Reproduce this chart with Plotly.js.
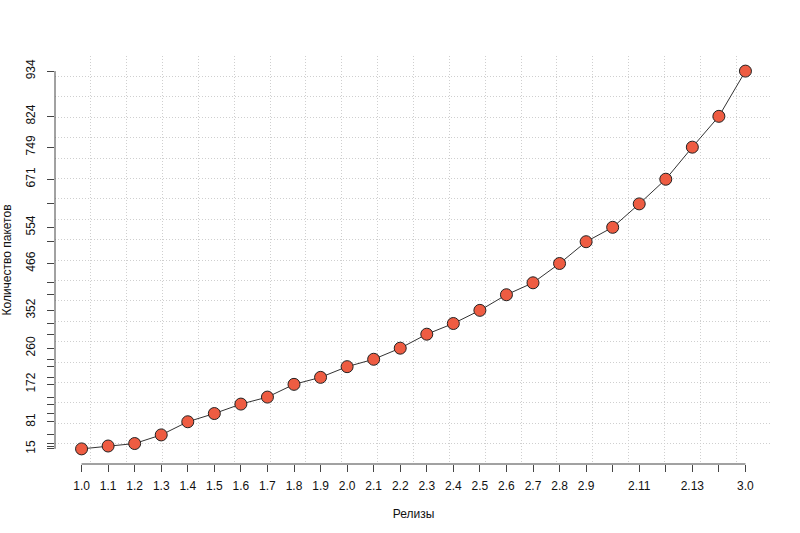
<!DOCTYPE html>
<html>
<head>
<meta charset="utf-8">
<script src="https://cdn.plot.ly/plotly-3.0.1.min.js"></script>
<style>
  html, body { margin: 0; padding: 0; background: #fff; }
  #chart { width: 800px; height: 533px; }
</style>
</head>
<body>
<div id="chart"></div>
<script>
// releases on the x axis
var releases = ['1.0', '1.1', '1.2', '1.3', '1.4', '1.5', '1.6', '1.7', '1.8', '1.9',
  '2.0', '2.1', '2.2', '2.3', '2.4', '2.5', '2.6', '2.7', '2.8', '2.9',
  '2.10', '2.11', '2.12', '2.13', '2.14', '3.0'];
// number of packages per release
var packages = [15, 22, 28, 49, 81, 101, 124, 141, 172, 189,
  215, 233, 260, 294, 320, 352, 390, 419, 466, 519,
  554, 611, 671, 749, 824, 934];
// labels that are actually printed (the rest are dropped for overlap)
var xLabelsShown = ['1.0', '1.1', '1.2', '1.3', '1.4', '1.5', '1.6', '1.7', '1.8', '1.9',
  '2.0', '2.1', '2.2', '2.3', '2.4', '2.5', '2.6', '2.7', '2.8', '2.9',
  '2.11', '2.13', '3.0'];
var yLabelsShown = [15, 81, 172, 260, 352, 466, 554, 671, 749, 824, 934];

// positions of releases along the axis
var xPos = releases.map(function (r, i) { return i + 1; });

// ranges padded by 4% like base graphics
function padRange(lo, hi) {
  var d = (hi - lo) * 0.04;
  return [lo - d, hi + d];
}
var xr = padRange(xPos[0], xPos[xPos.length - 1]);
var ymin = Math.min.apply(null, packages);
var ymax = Math.max.apply(null, packages);
var yr = padRange(ymin, ymax);

var axisCol = '#444';
var gridCol = '#cfcfcf';
var font = { family: 'Liberation Sans, Arial, sans-serif', size: 12, color: '#111' };

var trace = {
  x: xPos,
  y: packages,
  type: 'scatter',
  mode: 'lines+markers',
  line: { color: '#333', width: 1 },
  marker: { size: 12, color: '#EE5C42', line: { color: '#222', width: 1 } },
  hoverinfo: 'x+y'
};

var layout = {
  width: 800,
  height: 533,
  margin: { l: 55, r: 28, t: 56, b: 69 },
  paper_bgcolor: '#fff',
  plot_bgcolor: '#fff',
  showlegend: false,
  font: font,
  xaxis: {
    range: xr,
    tickmode: 'array',
    tickvals: xPos,
    ticktext: releases.map(function (r) { return xLabelsShown.indexOf(r) >= 0 ? r : ''; }),
    ticks: 'outside',
    ticklen: 7,
    tickcolor: axisCol,
    tickfont: font,
    ticklabelstandoff: 4,
    showline: false,
    zeroline: false,
    showgrid: false,
    minor: {
      tickmode: 'linear',
      tick0: xr[0],
      dtick: (xr[1] - xr[0]) / 20,
      ticks: '',
      showgrid: true,
      gridcolor: gridCol,
      griddash: '1px,2px',
      gridwidth: 1
    },
    title: { text: 'Релизы', font: font, standoff: 17 }
  },
  yaxis: {
    range: yr,
    tickmode: 'array',
    tickvals: packages,
    ticktext: packages.map(function (v) { return yLabelsShown.indexOf(v) >= 0 ? String(v) : ''; }),
    tickangle: -90,
    ticks: 'outside',
    ticklen: 7,
    tickcolor: axisCol,
    tickfont: font,
    ticklabelstandoff: 7,
    showline: false,
    zeroline: false,
    showgrid: false,
    minor: {
      tickmode: 'linear',
      tick0: yr[0],
      dtick: (yr[1] - yr[0]) / 20,
      ticks: '',
      showgrid: true,
      gridcolor: gridCol,
      griddash: '1px,2px',
      gridwidth: 1
    },
    title: { text: 'Количество пакетов', font: font, standoff: 13 }
  },
  // axis lines only span first to last tick
  shapes: [
    {
      type: 'line', xref: 'x', yref: 'paper',
      x0: xPos[0], x1: xPos[xPos.length - 1], y0: 0, y1: 0,
      line: { color: axisCol, width: 1 }
    },
    {
      type: 'line', xref: 'paper', yref: 'y',
      x0: 0, x1: 0, y0: ymin, y1: ymax,
      line: { color: axisCol, width: 1 }
    }
  ]
};

Plotly.newPlot('chart', [trace], layout, { displayModeBar: false, staticPlot: true });
</script>
</body>
</html>
